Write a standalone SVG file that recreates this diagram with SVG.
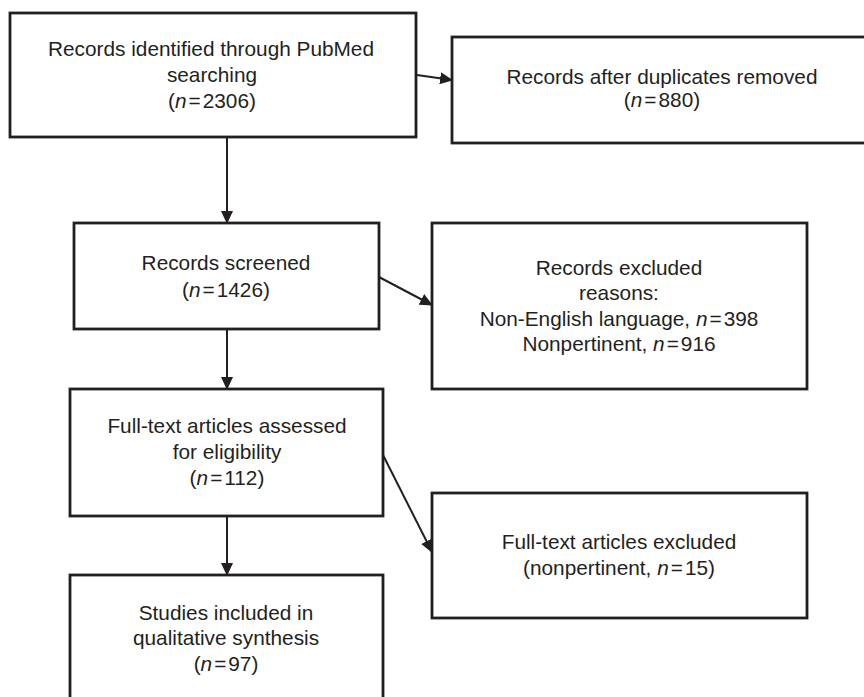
<svg xmlns="http://www.w3.org/2000/svg" width="864" height="697" viewBox="0 0 864 697">
<style>
.box{fill:#fff;stroke:#231f20;stroke-width:2.8}
.t{font-family:"Liberation Sans",Arial,sans-serif;font-size:20.8px;fill:#231f20;text-anchor:middle}
.i{font-style:italic}
.c{stroke:#231f20;stroke-width:2;fill:none;marker-end:url(#ah)}
</style>
<defs>
<marker id="ah" markerUnits="userSpaceOnUse" markerWidth="13" markerHeight="12" refX="12" refY="6" orient="auto" viewBox="0 0 13 12">
<path d="M0,0 L13,6 L0,12 z" fill="#231f20"/>
</marker>
</defs>
<rect width="864" height="697" fill="#fff"/>
<g id="connectors">
<line class="c" x1="417" y1="75" x2="452" y2="80"/>
<line class="c" x1="227" y1="137" x2="227" y2="223"/>
<line class="c" x1="379" y1="277" x2="432" y2="305"/>
<line class="c" x1="227" y1="329" x2="227" y2="389"/>
<line class="c" x1="383" y1="455" x2="432" y2="552"/>
<line class="c" x1="227" y1="516" x2="227" y2="575"/>
</g>
<g id="identified">
<rect class="box" x="10" y="13" width="406" height="124"/>
<text class="t" x="211" y="56">Records identified through PubMed</text>
<text class="t" x="212" y="82">searching</text>
<text class="t" x="212" y="108">(<tspan class="i">n</tspan><tspan dx="2">=</tspan><tspan dx="2">2306)</tspan></text>
</g>
<g id="duplicates">
<rect class="box" x="452" y="37" width="420" height="106"/>
<text class="t" x="662" y="84">Records after duplicates removed</text>
<text class="t" x="662" y="107">(<tspan class="i">n</tspan><tspan dx="2">=</tspan><tspan dx="2">880)</tspan></text>
</g>
<g id="screened">
<rect class="box" x="74" y="223" width="305" height="106"/>
<text class="t" x="226" y="270">Records screened</text>
<text class="t" x="226" y="297">(<tspan class="i">n</tspan><tspan dx="2">=</tspan><tspan dx="2">1426)</tspan></text>
</g>
<g id="excluded">
<rect class="box" x="432" y="223" width="375" height="166"/>
<text class="t" x="619" y="275">Records excluded</text>
<text class="t" x="619" y="300">reasons:</text>
<text class="t" x="619" y="326">Non-English language, <tspan class="i">n</tspan><tspan dx="2">=</tspan><tspan dx="2">398</tspan></text>
<text class="t" x="619" y="351">Nonpertinent, <tspan class="i">n</tspan><tspan dx="2">=</tspan><tspan dx="2">916</tspan></text>
</g>
<g id="fulltext">
<rect class="box" x="70" y="389" width="313" height="127"/>
<text class="t" x="227" y="433">Full-text articles assessed</text>
<text class="t" x="227" y="459">for eligibility</text>
<text class="t" x="227" y="485">(<tspan class="i">n</tspan><tspan dx="2">=</tspan><tspan dx="2">112)</tspan></text>
</g>
<g id="fulltext-excluded">
<rect class="box" x="432" y="493" width="375" height="125"/>
<text class="t" x="619" y="549">Full-text articles excluded</text>
<text class="t" x="619" y="575">(nonpertinent, <tspan class="i">n</tspan><tspan dx="2">=</tspan><tspan dx="2">15)</tspan></text>
</g>
<g id="included">
<rect class="box" x="70" y="575" width="313" height="135"/>
<text class="t" x="226" y="620">Studies included in</text>
<text class="t" x="226" y="645">qualitative synthesis</text>
<text class="t" x="226" y="671">(<tspan class="i">n</tspan><tspan dx="2">=</tspan><tspan dx="2">97)</tspan></text>
</g>
</svg>
